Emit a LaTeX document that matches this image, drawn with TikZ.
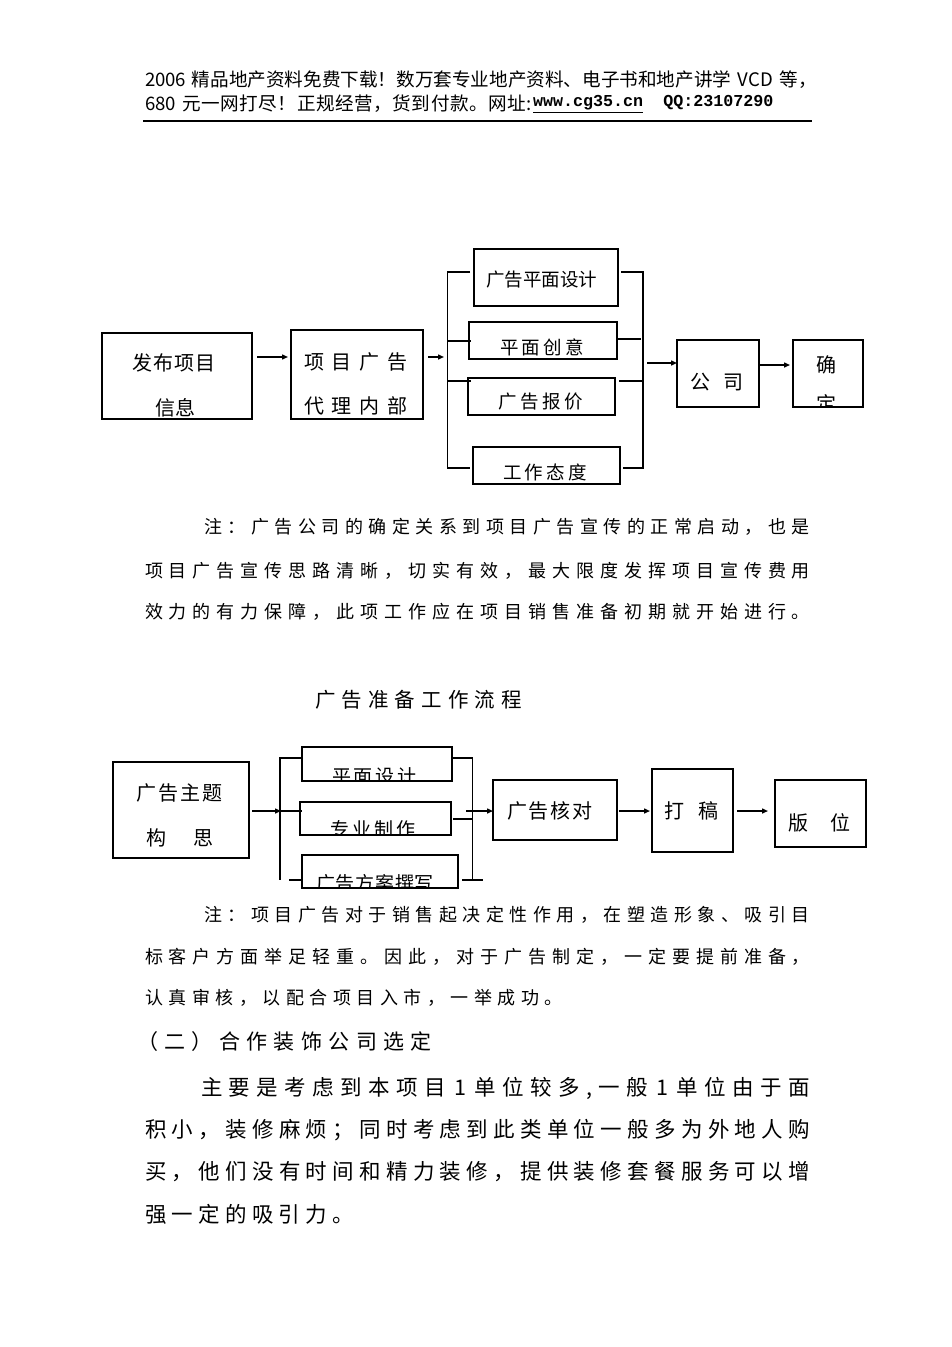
\documentclass[tikz,border=0pt]{standalone}
\usepackage{fontspec}
\setmainfont{Noto Sans CJK SC}
\newfontfamily\monof{Liberation Mono}
\usetikzlibrary{arrows.meta}
\newcommand\fs[1]{\fontsize{#1}{#1}\selectfont}
\ExplSyntaxOn
\NewDocumentCommand\spr{mm}{\makebox[#1][s]{\tl_map_inline:nn{#2}{##1\hfil}\unskip}}
\ExplSyntaxOff
\tikzset{
  box/.style={draw, line width=1.4pt, inner sep=0pt, outer sep=0pt},
  btx/.style={inner sep=0pt, outer sep=0pt, anchor=center},
  tx/.style={inner sep=0pt, outer sep=0pt, anchor=west},
  ln/.style={line width=1.4pt},
  arr/.style={line width=1.4pt, -{Triangle[length=6pt,width=5pt]}},
}
\begin{document}
\begin{tikzpicture}[x=1pt,y=-1pt]
\useasboundingbox (0,0) rectangle (952,1347);
\fill[white] (0,0) rectangle (952,1347);

% header
\node[tx, font=\fs{18.6}] (h1) at (145,80) {\spr{665pt}{{2006\hspace{0.3em}}精品地产资料免费下载！数万套专业地产资料、电子书和地产讲学{\hspace{0.35em}VCD\hspace{0.35em}}等，}};
\node[tx, font=\fs{18.6}] (h2) at (145,104) {\spr{387pt}{{680\hspace{0.3em}}元一网打尽！正规经营，货到付款。网址{:}}};
\node[tx, font=\monof\bfseries\fs{16.7}] (h3) at (533,104) {\underline{www.cg35.cn}\ \ QQ:23107290};
\draw[line width=2pt] (143,121) -- (812,121);

% ---------- top diagram ----------
\node[box, minimum width=150pt, minimum height=86pt, path picture={
  \node[btx, font=\fs{20}] (tA1) at ([shift={(-3.5pt,13pt)}]path picture bounding box.center) {\spr{83pt}{发布项目}};
  \node[btx, font=\fs{20}] (tA2) at ([shift={(-2pt,-32pt)}]path picture bounding box.center) {\spr{40pt}{信息}};
}] (A) at (177,376) {};
\node[box, minimum width=132pt, minimum height=89pt, path picture={
  \node[btx, font=\fs{20}] (tB1) at ([shift={(-1.5pt,12.5pt)}]path picture bounding box.center) {\spr{103pt}{项目广告}};
  \node[btx, font=\fs{20}] (tB2) at ([shift={(-1.5pt,-31.5pt)}]path picture bounding box.center) {\spr{103pt}{代理内部}};
}] (B) at (357,374.5) {};
\node[box, minimum width=144pt, minimum height=57pt, path picture={
  \node[btx, font=\fs{18.5}] (tC1) at ([shift={(-5pt,-2.5pt)}]path picture bounding box.center) {\spr{110pt}{广告平面设计}};
}] (C1) at (546,277.5) {};
\node[box, minimum width=148pt, minimum height=37pt, path picture={
  \node[btx, font=\fs{18.5}] (tC2) at ([shift={(-1pt,-6.5pt)}]path picture bounding box.center) {\spr{84pt}{平面创意}};
}] (C2) at (543,340.5) {};
\node[box, minimum width=147pt, minimum height=37pt, path picture={
  \node[btx, font=\fs{18.5}] (tC3) at ([shift={(-1pt,-5.5pt)}]path picture bounding box.center) {\spr{85pt}{广告报价}};
}] (C3) at (541.5,396.5) {};
\node[box, minimum width=147pt, minimum height=37pt, path picture={
  \node[btx, font=\fs{18.5}] (tC4) at ([shift={(-1.5pt,-6.5pt)}]path picture bounding box.center) {\spr{84pt}{工作态度}};
}] (C4) at (546.5,465.5) {};
\node[box, minimum width=82pt, minimum height=67pt, path picture={
  \node[btx, font=\fs{20}] (tD) at ([shift={(-1.5pt,-8.5pt)}]path picture bounding box.center) {\spr{53pt}{公司}};
}] (D) at (718,373.5) {};
\node[box, minimum width=70pt, minimum height=67pt, path picture={
  \node[btx, font=\fs{20}] (tE1) at ([shift={(-1.5pt,8.5pt)}]path picture bounding box.center) {确};
  \node[btx, font=\fs{20}] (tE2) at ([shift={(-1.5pt,-30pt)}]path picture bounding box.center) {定};
}] (E) at (828,373.5) {};

% brackets
\draw[ln] (470,272) -- (447.5,272) -- (447.5,468) -- (470,468);
\draw[ln] (447.5,341) -- (471,341);
\draw[ln] (447.5,381) -- (471,381);
\draw[ln] (621,272) -- (643,272) -- (643,468) -- (623,468);
\draw[ln] (618,339) -- (641,339);
\draw[ln] (619,381) -- (643,381);
\coordinate (l1in) at (444,357);
\coordinate (r1out) at (647,363);

\draw[arr] ([shift={(5,-19)}]A.east) -- ([shift={(-3,-17.5)}]B.west);
\draw[arr] ([shift={(5,-17.5)}]B.east) -- (l1in);
\draw[arr] (r1out) -- ([yshift=10.5pt]D.west);
\draw[arr] ([shift={(1,-8.5)}]D.east) -- ([shift={(-3,-8.5)}]E.west);

% note 1
\node[tx, font=\fs{18}] (n1a) at (204,527) {\spr{606pt}{注：广告公司的确定关系到项目广告宣传的正常启动，也是}};
\node[tx, font=\fs{18}] (n1b) at (145,571) {\spr{665pt}{项目广告宣传思路清晰，切实有效，最大限度发挥项目宣传费用}};
\node[tx, font=\fs{18}] (n1c) at (145,612) {\spr{665pt}{效力的有力保障，此项工作应在项目销售准备初期就开始进行。}};

% title
\node[tx, font=\fs{20.5}] (title) at (315,700) {\spr{207pt}{广告准备工作流程}};

% ---------- bottom diagram ----------
\node[box, minimum width=136pt, minimum height=96pt, path picture={
  \node[btx, font=\fs{20}] (tF1) at ([shift={(-2pt,17pt)}]path picture bounding box.center) {\spr{86pt}{广告主题}};
  \node[btx, font=\fs{20}] (tF2) at ([shift={(-1.5pt,-28pt)}]path picture bounding box.center) {\spr{67pt}{构思}};
}] (F) at (181,810) {};
\node[box, minimum width=150pt, minimum height=34pt, path picture={
  \node[btx, font=\fs{19}] (tG1) at ([shift={(-2.5pt,-12pt)}]path picture bounding box.center) {\spr{85pt}{平面设计}};
}] (G1) at (377,764) {};
\node[box, minimum width=151pt, minimum height=33pt, path picture={
  \node[btx, font=\fs{19}] (tG2) at ([shift={(-2.5pt,-10.5pt)}]path picture bounding box.center) {\spr{86pt}{专业制作}};
}] (G2) at (375.5,818.5) {};
\node[box, minimum width=156pt, minimum height=33pt, path picture={
  \node[btx, font=\fs{19}] (tG3) at ([shift={(-5pt,-11.5pt)}]path picture bounding box.center) {\spr{118pt}{广告方案撰写}};
}] (G3) at (380,871.5) {};
\node[box, minimum width=124pt, minimum height=60pt, path picture={
  \node[btx, font=\fs{20}] (tH) at ([shift={(-5.5pt,-1pt)}]path picture bounding box.center) {\spr{85pt}{广告核对}};
}] (H) at (555,810) {};
\node[box, minimum width=81pt, minimum height=83pt, path picture={
  \node[btx, font=\fs{20}] (tI) at ([shift={(-1.5pt,-0.5pt)}]path picture bounding box.center) {\spr{54pt}{打稿}};
}] (I) at (692.5,810.5) {};
\node[box, minimum width=91pt, minimum height=67pt, path picture={
  \node[btx, font=\fs{20}] (tJ) at ([shift={(-1.5pt,-9.5pt)}]path picture bounding box.center) {\spr{62pt}{版位}};
}] (J) at (820.5,813.5) {};

\draw[ln] (303,758) -- (280,758) -- (280,880);
\draw[ln] (280,811) -- (302,811);
\draw[ln] (289,880) -- (303,880);
\draw[ln] (452,758) -- (472.5,758) -- (472.5,880);
\draw[ln] (453,819) -- (472.5,819);
\draw[ln] (462,880) -- (483,880);
\coordinate (l2in) at (281,811);
\coordinate (r2out) at (466,811);

\draw[arr] ([shift={(3,1)}]F.east) -- (l2in);
\draw[arr] (r2out) -- ([yshift=-1pt]H.west);
\draw[arr] ([shift={(2,1)}]H.east) -- ([shift={(-2,0.5)}]I.west);
\draw[arr] ([shift={(4,0.5)}]I.east) -- ([shift={(-7,-2.5)}]J.west);

% note 2
\node[tx, font=\fs{18}] (n2a) at (204,915) {\spr{606pt}{注：项目广告对于销售起决定性作用，在塑造形象、吸引目}};
\node[tx, font=\fs{18}] (n2b) at (145,957) {\spr{665pt}{标客户方面举足轻重。因此，对于广告制定，一定要提前准备，}};
\node[tx, font=\fs{18}] (n2c) at (145,998) {\spr{418pt}{认真审核，以配合项目入市，一举成功。}};

% section
\node[tx, font=\fs{21}] (sec) at (137,1042) {\spr{295pt}{（二）合作装饰公司选定}};
\node[tx, font=\fs{21.5}] (p1) at (201,1088) {\spr{609pt}{主要是考虑到本项目{\makebox[0.7em]{1}}单位较多{,}一般{\makebox[0.7em]{1}}单位由于面}};
\node[tx, font=\fs{21.5}] (p2) at (145,1130) {\spr{665pt}{积小，装修麻烦；同时考虑到此类单位一般多为外地人购}};
\node[tx, font=\fs{21.5}] (p3) at (145,1172) {\spr{665pt}{买，他们没有时间和精力装修，提供装修套餐服务可以增}};
\node[tx, font=\fs{21.5}] (p4) at (145,1214) {\spr{209pt}{强一定的吸引力。}};
\end{tikzpicture}
\end{document}
